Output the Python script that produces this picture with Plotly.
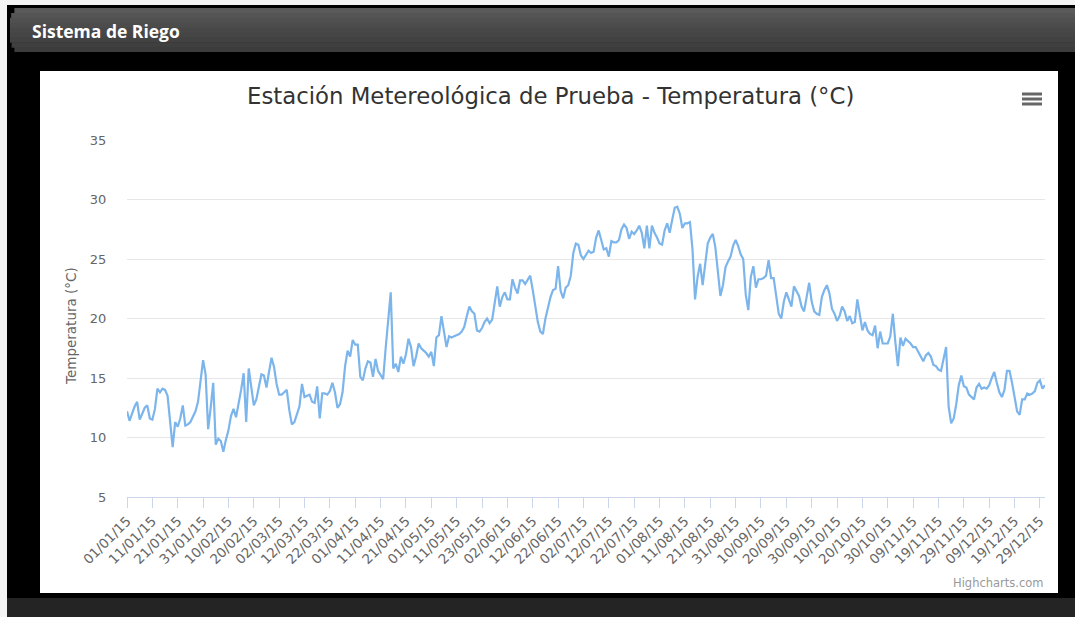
import pandas as pd
import plotly.graph_objects as go

# Daily mean temperature (°C) for the test station, 2015
temperatures = [
    12.2, 11.4, 12.0, 12.6, 13.0, 11.5, 12.0, 12.5, 12.7, 11.6,
    11.5, 12.4, 14.1, 13.8, 14.1, 14.0, 13.5, 11.0, 9.2, 11.3,
    10.9, 11.6, 12.7, 11.0, 11.1, 11.3, 11.8, 12.2, 13.0, 15.0,
    16.5, 15.3, 10.7, 12.5, 14.6, 9.4, 9.9, 9.7, 8.8, 9.8,
    10.6, 11.8, 12.4, 11.7, 12.8, 14.0, 15.4, 11.3, 15.8, 14.0,
    12.7, 13.2, 14.2, 15.3, 15.2, 14.2, 15.5, 16.7, 15.9, 14.5,
    13.6, 13.6, 13.8, 14.0, 12.3, 11.1, 11.3, 12.0, 12.6, 14.5,
    13.4, 13.5, 13.6, 13.0, 12.9, 14.3, 11.6, 13.7, 13.7, 13.6,
    13.9, 14.6, 13.8, 12.5, 12.8, 13.8, 16.0, 17.3, 16.8, 18.2,
    17.8, 17.8, 15.1, 14.8, 15.8, 16.4, 16.3, 15.1, 16.6, 15.6,
    15.2, 14.9, 17.5, 20.0, 22.2, 15.8, 16.2, 15.5, 16.8, 16.2,
    17.0, 18.3, 17.6, 16.0, 16.8, 17.9, 17.5, 17.3, 17.1, 16.8,
    17.2, 16.0, 18.4, 18.6, 20.2, 18.9, 17.6, 18.5, 18.4, 18.5,
    18.6, 18.7, 18.9, 19.3, 20.2, 21.0, 20.6, 20.4, 19.0, 18.9,
    19.2, 19.7, 20.0, 19.6, 19.9, 21.2, 22.7, 21.0, 21.8, 22.2,
    21.6, 21.6, 23.3, 22.6, 22.1, 23.2, 23.2, 22.9, 23.3, 23.6,
    22.4, 21.0, 19.7, 18.9, 18.7, 20.0, 21.0, 21.8, 22.4, 22.5,
    24.4, 22.3, 21.7, 22.6, 22.8, 23.6, 25.5, 26.3, 26.2, 25.3,
    25.0, 25.4, 25.7, 25.5, 25.6, 26.8, 27.4, 26.6, 25.8, 25.9,
    25.2, 26.5, 26.4, 26.4, 26.6, 27.5, 27.9, 27.6, 26.7, 27.3,
    27.1, 27.4, 27.8, 27.2, 25.9, 27.8, 25.9, 27.8, 27.2, 26.8,
    26.3, 26.2, 27.4, 28.0, 27.2, 28.3, 29.3, 29.4, 28.8, 27.6,
    28.0, 28.0, 28.1, 25.8, 21.6, 23.5, 24.6, 22.8, 24.5, 26.3,
    26.8, 27.1, 26.0, 24.0, 21.9, 22.8, 24.3, 24.8, 25.2, 26.1,
    26.6, 26.1, 25.4, 25.0, 22.0, 20.7, 23.5, 24.4, 22.6, 23.3,
    23.3, 23.4, 23.6, 24.9, 23.4, 23.4, 21.7, 20.4, 20.0, 21.4,
    22.2, 21.6, 21.0, 22.7, 22.3, 21.9, 21.0, 20.6, 21.8, 23.0,
    21.4, 20.6, 20.4, 20.3, 21.8, 22.4, 22.8, 22.1, 20.8, 20.4,
    19.8, 20.2, 21.0, 20.6, 19.8, 20.2, 19.6, 19.7, 21.6, 20.2,
    19.0, 19.7, 19.0, 18.7, 18.6, 19.4, 17.5, 18.9, 17.9, 17.9,
    17.9, 18.5, 20.4, 18.0, 16.0, 18.4, 17.7, 18.3, 18.1, 17.9,
    17.6, 17.6, 17.2, 16.8, 16.4, 16.9, 17.1, 16.8, 16.1, 16.0,
    15.7, 15.6, 16.6, 17.6, 12.6, 11.2, 11.6, 12.8, 14.4, 15.2,
    14.3, 14.2, 13.6, 13.4, 13.2, 14.2, 14.5, 14.1, 14.2, 14.1,
    14.4, 15.0, 15.5, 14.6, 13.8, 13.4, 14.0, 15.6, 15.6, 14.6,
    13.3, 12.2, 11.9, 13.2, 13.2, 13.7, 13.6, 13.7, 13.9, 14.6,
    14.8, 14.1, 14.4,
]

# Days without a reading
missing_days = ["16/05/15", "17/05/15"]

all_days = pd.date_range("2015-01-01", "2015-12-31", freq="D").strftime("%d/%m/%y")
dates = [d for d in all_days if d not in missing_days]
tick_labels = dates[::10]

chart_title = "Estación Metereológica de Prueba - Temperatura (°C)"
y_title = "Temperatura (°C)"
panel_title = "Sistema de Riego"
credit = "Highcharts.com"

W, H = 1075, 617
L, R, T, B = 127, 30, 140, 120
PW, PH = W - L - R, H - T - B


def px(x):
    return (x - L) / PW


def py(y):
    return (H - B - y) / PH


fig = go.Figure()
fig.add_trace(go.Scatter(
    x=dates, y=temperatures, mode="lines",
    line=dict(color="#7cb5ec", width=2.2),
    name="Temperatura", hovertemplate="%{x}<br>%{y} °C<extra></extra>",
))

shapes = []
# page: light margin on top/left, dark panel body
shapes.append(dict(type="rect", xref="paper", yref="paper",
                   x0=px(0), x1=px(W), y0=py(H), y1=py(0),
                   fillcolor="#f4f4f4", line=dict(width=0), layer="below"))
shapes.append(dict(type="rect", xref="paper", yref="paper",
                   x0=px(7), x1=px(W), y0=py(H), y1=py(5),
                   fillcolor="#000000", line=dict(width=0), layer="below"))
# panel header bar with rounded corners and a soft vertical gradient
hx0, hx1, hy0, hy1, r = 10, W + 10, 8, 52, 8
shades = ["#5a5a5a", "#555555", "#505050", "#4c4c4c", "#484848",
          "#454545", "#424242", "#3f3f3f", "#3c3c3c"]
band = (hy1 - hy0) / len(shades)
for i, c in enumerate(shades):
    y0b = hy0 + i * band
    y1b = y0b + band + 0.6
    inset = 0
    if y0b < hy0 + r:
        inset = max(inset, r - (y0b - hy0) * 1.2)
    if y1b > hy1 - r:
        inset = max(inset, r - (hy1 - y1b) * 1.2)
    inset = max(0, min(r, inset)) * 0.55
    shapes.append(dict(type="rect", xref="paper", yref="paper",
                       x0=px(hx0 + inset), x1=px(hx1), y0=py(min(y1b, hy1)), y1=py(y0b),
                       fillcolor=c, line=dict(width=0), layer="below"))
# white chart box
shapes.append(dict(type="rect", xref="paper", yref="paper",
                   x0=px(40), x1=px(1058), y0=py(593), y1=py(71),
                   fillcolor="#ffffff", line=dict(width=0), layer="below"))
# bottom strip
shapes.append(dict(type="rect", xref="paper", yref="paper",
                   x0=px(7), x1=px(W), y0=py(H), y1=py(598),
                   fillcolor="#242424", line=dict(width=0), layer="below"))
# export menu icon
for yy in (94, 99, 104):
    shapes.append(dict(type="line", xref="paper", yref="paper",
                       x0=px(1022), x1=px(1042), y0=py(yy), y1=py(yy),
                       line=dict(color="#666666", width=3)))

annotations = [
    dict(text=f"<b>{panel_title}</b>", xref="paper", yref="paper",
         x=px(30), y=py(31), xanchor="left", yanchor="middle", showarrow=False,
         font=dict(family="Open Sans", size=17.5, color="#ffffff")),
    dict(text=chart_title, xref="paper", yref="paper",
         x=px(550), y=py(96), xanchor="center", yanchor="middle", showarrow=False,
         font=dict(family="DejaVu Sans", size=22.8, color="#333333")),
    dict(text=y_title, xref="paper", yref="paper", textangle=-90,
         x=px(71), y=py(326), xanchor="center", yanchor="middle", showarrow=False,
         font=dict(family="DejaVu Sans", size=13.5, color="#666666")),
    dict(text=credit, xref="paper", yref="paper",
         x=px(1046), y=py(583), xanchor="right", yanchor="middle", showarrow=False,
         font=dict(family="DejaVu Sans", size=11.5, color="#999999")),
]

fig.update_layout(
    width=W, height=H,
    margin=dict(l=L, r=R, t=T, b=B, pad=0),
    paper_bgcolor="#000000", plot_bgcolor="#ffffff",
    showlegend=False, shapes=shapes, annotations=annotations,
    font=dict(family="DejaVu Sans", color="#666666"),
)
fig.update_xaxes(
    type="category", range=[0, len(dates) - 1],
    tickmode="array", tickvals=tick_labels, ticktext=tick_labels,
    tickangle=-45, ticks="outside", ticklen=10, tickcolor="#ccd6eb",
    showline=True, linecolor="#ccd6eb", linewidth=1, showgrid=False,
    tickfont=dict(size=13.5, color="#666666"), zeroline=False,
)
fig.update_yaxes(
    range=[5, 35], dtick=5, tick0=5, showgrid=True, gridcolor="#e6e6e6",
    showline=False, zeroline=False, ticks="outside", ticklen=17,
    tickcolor="rgba(0,0,0,0)", tickfont=dict(size=13, color="#666666"),
)

fig.write_html("out.html")
